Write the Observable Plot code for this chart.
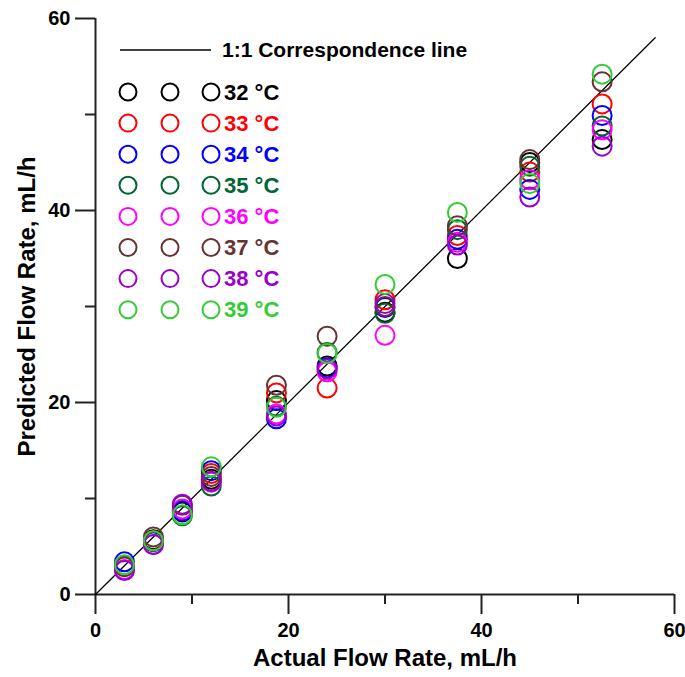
<!DOCTYPE html>
<html><head><meta charset="utf-8">
<script src="https://cdn.jsdelivr.net/npm/d3@7"></script>
<script src="https://cdn.jsdelivr.net/npm/@observablehq/plot@0.6"></script>
<style>body{margin:0;background:#fff}</style>
</head><body><div id="chart"></div>
<script>
const actual = [3, 6, 9, 12, 18.75, 24, 30, 37.5, 45, 52.5];
const temps = ["32", "33", "34", "35", "36", "37", "38", "39"];
const colors = ["#000000", "#ff0000", "#0000ff", "#006633", "#ff00ff", "#663333", "#9900cc", "#33cc33"];
const pred32 = [3.0, 5.7, 8.6, 12.0, 20.2, 23.8, 29.4, 35.0, 45.0, 47.4];
const pred33 = [3.0, 5.6, 8.8, 12.6, 21.0, 21.5, 30.7, 37.4, 44.0, 51.1];
const pred34 = [3.4, 5.5, 8.7, 12.9, 18.3, 23.6, 29.9, 37.0, 42.2, 49.9];
const pred35 = [2.9, 5.5, 8.2, 11.3, 19.6, 25.2, 29.3, 38.0, 44.6, 48.8];
const pred36 = [2.6, 5.2, 8.9, 11.7, 18.8, 23.2, 27.0, 36.7, 43.2, 48.4];
const pred37 = [2.9, 6.0, 9.3, 12.3, 21.8, 26.9, 30.0, 38.4, 45.3, 53.4];
const pred38 = [2.5, 5.2, 9.4, 11.8, 18.6, 23.5, 30.3, 36.4, 41.4, 46.7];
const pred39 = [3.1, 5.6, 8.3, 13.3, 19.5, 25.1, 32.3, 39.8, 42.8, 54.2];
const oneToOne = [0, 58];
const majorTicks = [0, 20, 40, 60];
const minorTicks = [10, 30, 50];
const xLabel = "Actual Flow Rate, mL/h";
const yLabel = "Predicted Flow Rate, mL/h";
const lineLabel = "1:1 Correspondence line";

const series = [pred32, pred33, pred34, pred35, pred36, pred37, pred38, pred39];
const data = [];
series.forEach((vals, i) => vals.forEach((v, j) => data.push({temp: temps[i], x: actual[j], y: v})));

const FONT = "'Liberation Sans', Arial, sans-serif";

function legend(index, scales, values, dims) {
  const g = d3.create("svg:g").attr("font-family", FONT).attr("font-weight", "bold").attr("text-anchor", "start");
  g.append("line").attr("x1", 120).attr("x2", 211).attr("y1", 50).attr("y2", 50)
    .attr("stroke", "black").attr("stroke-width", 1.3);
  g.append("text").attr("x", 222).attr("y", 50).attr("dy", "0.35em")
    .attr("font-size", 21).attr("fill", "black").text(lineLabel);
  temps.forEach((t, i) => {
    const cy = 92 + 31.1 * i;
    [128, 170, 211].forEach(cx => {
      g.append("circle").attr("cx", cx).attr("cy", cy).attr("r", 8.5)
        .attr("fill", "none").attr("stroke", colors[i]).attr("stroke-width", 2);
    });
    g.append("text").attr("x", 224).attr("y", cy).attr("dy", "0.35em")
      .attr("font-size", 22).attr("fill", colors[i]).text(t + " \u00B0C");
  });
  return g.node();
}

const chart = Plot.plot({
  width: 685,
  height: 677,
  marginLeft: 95,
  marginRight: 11,
  marginTop: 18,
  marginBottom: 83,
  style: {fontFamily: FONT, fontWeight: "bold", background: "white"},
  x: {domain: [0, 60]},
  y: {domain: [0, 60]},
  color: {domain: temps, range: colors},
  marks: [
    Plot.ruleY([0], {stroke: "#222", strokeWidth: 2}),
    Plot.ruleX([0], {stroke: "#222", strokeWidth: 2}),
    Plot.axisX({ticks: majorTicks, tickSize: 20, tickPadding: 8, label: null, fontSize: 20, fontWeight: "bold", stroke: "#222", strokeWidth: 2, color: "black"}),
    Plot.axisX({ticks: minorTicks, tickSize: 10, text: null, label: null, stroke: "#222", strokeWidth: 2}),
    Plot.axisY({ticks: majorTicks, tickSize: 20, tickPadding: 5, label: null, fontSize: 20, fontWeight: "bold", stroke: "#222", strokeWidth: 2, color: "black"}),
    Plot.axisY({ticks: minorTicks, tickSize: 10, text: null, label: null, stroke: "#222", strokeWidth: 2}),
    Plot.text([xLabel], {frameAnchor: "bottom", dy: 71, text: d => d, fontSize: 24, fontWeight: "bold", fill: "black", textAnchor: "middle"}),
    Plot.text([yLabel], {frameAnchor: "left", dx: -68, rotate: -90, text: d => d, fontSize: 24, fontWeight: "bold", fill: "black", textAnchor: "middle"}),
    Plot.line(oneToOne, {x: d => d, y: d => d, stroke: "black", strokeWidth: 1.3}),
    Plot.dot(data, {x: "x", y: "y", stroke: "temp", r: 9.5, strokeWidth: 2, fill: "none"}),
    legend
  ]
});
document.getElementById("chart").appendChild(chart);
</script>
</body></html>
